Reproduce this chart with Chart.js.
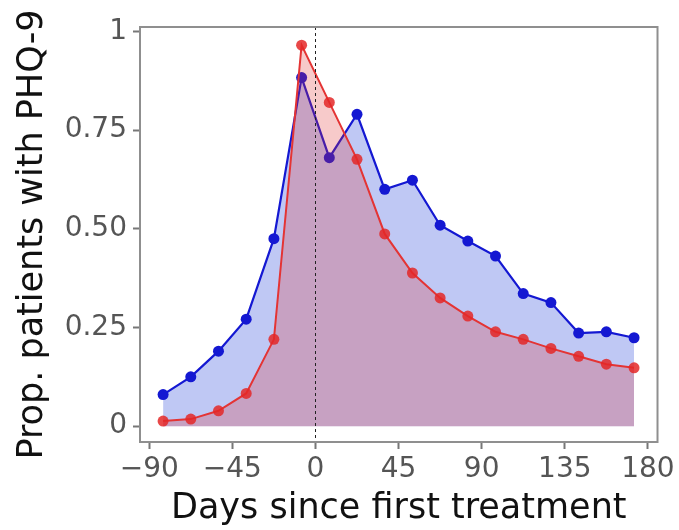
<!DOCTYPE html>
<html>
<head>
<meta charset="utf-8">
<script src="https://cdn.jsdelivr.net/npm/chart.js@4/dist/chart.umd.min.js"></script>
<style>
  html, body { margin: 0; padding: 0; background: #fff; }
  #wrap { width: 679px; height: 530px; }
</style>
</head>
<body>
<div id="wrap"><canvas id="c" width="679" height="530"></canvas></div>
<script>
// ---- data ----
const days = [-82.5, -67.5, -52.5, -37.5, -22.5, -7.5, 7.5, 22.5, 37.5, 52.5, 67.5, 82.5, 97.5, 112.5, 127.5, 142.5, 157.5, 172.5];
const blueValues = [0.080, 0.125, 0.190, 0.271, 0.475, 0.883, 0.680, 0.790, 0.600, 0.623, 0.509, 0.469, 0.431, 0.336, 0.313, 0.236, 0.239, 0.224];
const redValues  = [0.013, 0.018, 0.039, 0.083, 0.220, 0.965, 0.820, 0.676, 0.487, 0.388, 0.325, 0.279, 0.239, 0.220, 0.197, 0.177, 0.157, 0.148];
const xTickValues = [-90, -45, 0, 45, 90, 135, 180];
const yTickValues = [0, 0.25, 0.5, 0.75, 1];
const yTickLabels = ['0', '0.25', '0.50', '0.75', '1'];
const xTitle = 'Days since first treatment';
const yTitle = 'Prop. patients with PHQ-9';

const toPoints = vals => days.map((d, i) => ({ x: d, y: vals[i] }));

const frameAndZeroLine = {
  id: 'frameAndZeroLine',
  afterDatasetsDraw(chart) {
    const { ctx, chartArea: a, scales } = chart;
    const x0 = scales.x.getPixelForValue(0);
    ctx.save();
    ctx.strokeStyle = '#222';
    ctx.lineWidth = 1;
    ctx.setLineDash([3, 3]);
    ctx.beginPath();
    ctx.moveTo(Math.round(x0) + 0.5, a.top);
    ctx.lineTo(Math.round(x0) + 0.5, a.bottom);
    ctx.stroke();
    ctx.setLineDash([]);
    ctx.strokeStyle = '#8f8f8f';
    ctx.lineWidth = 2;
    ctx.strokeRect(a.left, a.top, a.right - a.left, a.bottom - a.top);
    ctx.restore();
  }
};

new Chart(document.getElementById('c'), {
  type: 'line',
  data: {
    datasets: [
      {
        label: 'red',
        data: toPoints(redValues),
        borderColor: 'rgb(228,52,52)',
        backgroundColor: 'rgba(225,45,45,0.25)',
        pointBackgroundColor: 'rgba(228,40,40,0.85)',
        pointBorderColor: 'rgba(228,40,40,0.85)',
        pointRadius: 5.5,
        pointBorderWidth: 0,
        borderWidth: 2,
        fill: 'origin',
        tension: 0
      },
      {
        label: 'blue',
        data: toPoints(blueValues),
        borderColor: 'rgb(20,24,210)',
        backgroundColor: 'rgba(55,85,220,0.32)',
        pointBackgroundColor: 'rgb(20,24,210)',
        pointBorderColor: 'rgb(20,24,210)',
        pointRadius: 5.5,
        pointBorderWidth: 0,
        borderWidth: 2.2,
        fill: 'origin',
        tension: 0
      }
    ]
  },
  options: {
    responsive: false,
    animation: false,
    layout: { padding: { top: 27, right: 20, bottom: 0, left: 0 } },
    plugins: { legend: { display: false }, tooltip: { enabled: false } },
    scales: {
      x: {
        type: 'linear',
        min: -95,
        max: 185.2,
        afterBuildTicks: s => { s.ticks = xTickValues.map(v => ({ value: v })); },
        afterFit: s => { s.height = 88; },
        grid: { drawOnChartArea: false, drawTicks: true, tickLength: 7, tickColor: '#777', tickWidth: 2 },
        border: { display: false },
        ticks: {
          padding: 4,
          color: '#555',
          font: { family: 'DejaVu Sans', size: 28 },
          maxRotation: 0,
          autoSkip: false,
          callback: v => String(v).replace('-', '\u2212')
        },
        title: {
          display: true,
          text: xTitle,
          color: '#111',
          font: { family: 'DejaVu Sans', size: 35 },
          padding: { top: 0, bottom: 0 }
        }
      },
      y: {
        min: -0.04,
        max: 1.011,
        afterBuildTicks: s => { s.ticks = yTickValues.map(v => ({ value: v })); },
        afterFit: s => { s.width = 140; },
        grid: { drawOnChartArea: false, drawTicks: true, tickLength: 7, tickColor: '#777', tickWidth: 2 },
        border: { display: false },
        ticks: {
          padding: 6,
          color: '#555',
          font: { family: 'DejaVu Sans', size: 28 },
          autoSkip: false,
          callback: v => { const i = yTickValues.indexOf(v); return i >= 0 ? yTickLabels[i] : ''; }
        },
        title: {
          display: true,
          text: yTitle,
          color: '#111',
          font: { family: 'DejaVu Sans', size: 35 },
          padding: { top: 12, bottom: 0 }
        }
      }
    }
  },
  plugins: [frameAndZeroLine]
});
</script>
</body>
</html>
